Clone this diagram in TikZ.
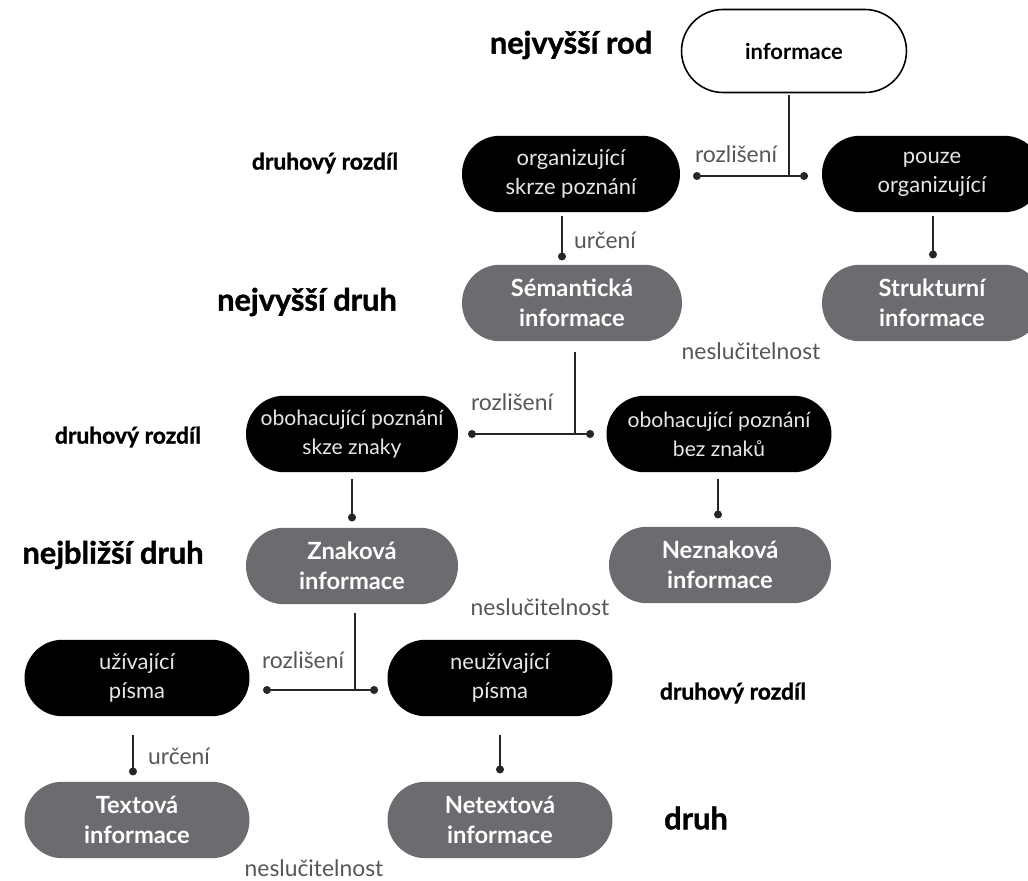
\documentclass[tikz,border=0pt]{standalone}
\usepackage{fontspec}
\setmainfont{Lato}
\newfontfamily\labfont{Lato}[BoldFeatures={FakeBold=1.3}]
\usetikzlibrary{arrows.meta,calc}
\definecolor{nodegray}{HTML}{6B6C6F}
\definecolor{labgray}{HTML}{55565A}
\definecolor{lighttext}{HTML}{E6E6E6}
\begin{document}
\begin{tikzpicture}[x=0.02cm,y=-0.02cm,
  pill/.style={rectangle, rounded corners=0.76cm, minimum height=1.53cm, align=center, inner sep=0pt},
  blackpill/.style={pill, fill=black, text=lighttext, font=\fontsize{12.5}{16.5}\selectfont},
  graypill/.style={pill, fill=nodegray, text=white, font=\bfseries\fontsize{13.5}{17}\selectfont},
  whitepill/.style={pill, draw=black, line width=0.9pt, fill=white, font=\bfseries\fontsize{12.5}{16}\selectfont},
  biglab/.style={font=\labfont\bfseries\fontsize{17.5}{20}\selectfont, text=black},
  smalllab/.style={font=\labfont\bfseries\fontsize{13}{15}\selectfont, text=black},
  conlab/.style={font=\fontsize{13}{15}\selectfont, text=labgray},
  conn/.style={draw=black!85, line width=0.8pt},
  dotend/.style={conn, -{Circle[length=4.5pt]}},
  dotboth/.style={conn, {Circle[length=4.5pt]}-{Circle[length=4.5pt]}}
]
\useasboundingbox (0,0) rectangle (1028,881);
% nodes
\node[whitepill, minimum width=4.5cm, minimum height=1.66cm, rounded corners=0.83cm] (info) at (794,51) {informace};
\node[blackpill, minimum width=4.36cm] (org) at (571,174) {organizující\\skrze poznání};
\node[blackpill, minimum width=4.4cm] (pouze) at (932,174) {pouze\\organizující};
\node[graypill, minimum width=4.4cm] (sem) at (572,303) {Sémantická\\informace};
\node[graypill, minimum width=4.4cm] (strukt) at (932,303) {Strukturní\\informace};
\node[blackpill, minimum width=4.24cm, font=\fontsize{12}{16.5}\selectfont] (obo1) at (352,434) {obohacující poznání\\skze znaky};
\node[blackpill, minimum width=4.5cm, font=\fontsize{12}{16.5}\selectfont] (obo2) at (719,434) {obohacující poznání\\bez znaků};
\node[graypill, minimum width=4.24cm] (znak) at (352,566) {Znaková\\informace};
\node[graypill, minimum width=4.44cm] (neznak) at (720,565) {Neznaková\\informace};
\node[blackpill, minimum width=4.5cm] (uziv) at (137,678) {užívající\\písma};
\node[blackpill, minimum width=4.5cm] (neuziv) at (500,678) {neužívající\\písma};
\node[graypill, minimum width=4.5cm] (textinf) at (137,820) {Textová\\informace};
\node[graypill, minimum width=4.5cm] (netext) at (500,820) {Netextová\\informace};
% side labels
\node[biglab] (l1) at (571,45) {nejvyšší rod};
\node[smalllab] (l2) at (325,163) {druhový rozdíl};
\node[biglab] (l3) at (307,302) {nejvyšší druh};
\node[smalllab] (l4) at (128,437) {druhový rozdíl};
\node[biglab] (l5) at (113,555) {nejbližší druh};
\node[smalllab] (l6) at (733,693) {druhový rozdíl};
\node[biglab] (l7) at (696,818) {druh};
% connector labels
\node[conlab] (r1) at (736,154) {rozlišení};
\node[conlab] (u1) at (605,240) {určení};
\node[conlab] (n1) at (751,351) {neslučitelnost};
\node[conlab] (r2) at (512,402) {rozlišení};
\node[conlab] (n2) at (540,607) {neslučitelnost};
\node[conlab] (r3) at (303,660) {rozlišení};
\node[conlab] (u2) at (179,756) {určení};
\node[conlab] (n3) at (314,868) {neslučitelnost};
% junction coordinates
\coordinate (j1L) at (693,176);
\coordinate (j1R) at (808,176);
\coordinate (j2L) at (468,434);
\coordinate (j2R) at (594,434);
\coordinate (j3L) at (263,690);
\coordinate (j3R) at (378,690);
% connectors
\draw[conn] ($(info.south)+(-5,2)$) -- ($(info.south |- j1L)+(-5,0)$);
\draw[dotboth] (j1L) -- (j1R);
\draw[dotend] ($(org.south)+(-9,3)$) -- ($(sem.north)+(-10,-4)$);
\draw[dotend] ($(pouze.south)+(1,3)$) -- ($(strukt.north)+(1,-6)$);
\draw[conn] ($(sem.south)+(3,10)$) -- ($(sem.south |- j2L)+(3,0)$);
\draw[dotboth] (j2L) -- (j2R);
\draw[dotend] ($(obo1.south)+(0,6)$) -- ($(znak.north)+(0,-6)$);
\draw[dotend] ($(obo2.south)+(-1,6)$) -- ($(neznak.north)+(-2,-8)$);
\draw[conn] ($(znak.south)+(3,8)$) -- ($(znak.south |- j3L)+(3,0)$);
\draw[dotboth] (j3L) -- (j3R);
\draw[dotend] ($(uziv.south)+(-4,18)$) -- ($(textinf.north)+(-4,-6)$);
\draw[dotend] ($(neuziv.south)+(0,18)$) -- ($(netext.north)+(0,-8)$);
\end{tikzpicture}
\end{document}
